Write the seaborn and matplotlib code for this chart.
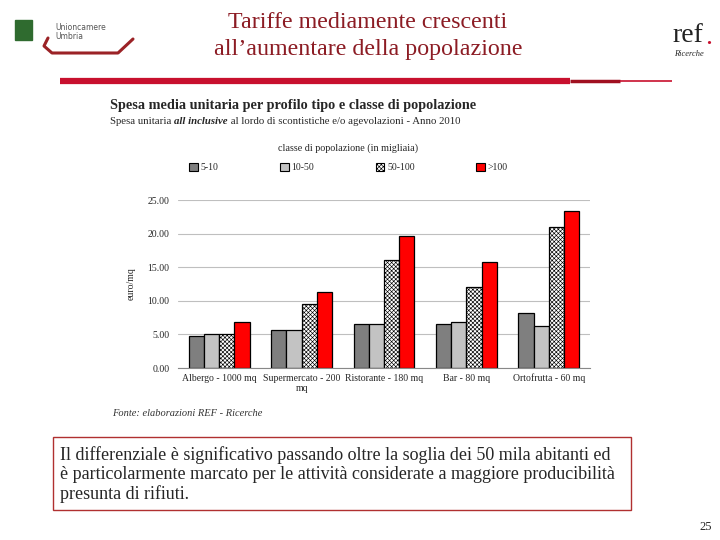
import numpy as np
import pandas as pd
import seaborn as sns
import matplotlib.pyplot as plt
from matplotlib.patches import Rectangle, Patch
from matplotlib.lines import Line2D

# values (euro/mq)
categorie = ['Albergo - 1000 mq', 'Supermercato - 200\nmq', 'Ristorante - 180 mq',
             'Bar - 80 mq', 'Ortofrutta - 60 mq']
classi = ['5-10', '10-50', '50-100', '>100']
v_5_10 = [4.7, 5.7, 6.6, 6.5, 8.2]
v_10_50 = [5.0, 5.7, 6.6, 6.8, 6.3]
v_50_100 = [5.1, 9.5, 16.1, 12.1, 21.0]
v_100 = [6.9, 11.3, 19.7, 15.8, 23.4]
colori = ['#7f7f7f', '#c3c3c3', '#ffffff', '#ff0000']

df = pd.DataFrame({'categoria': categorie * 4,
                   'classe': np.repeat(classi, 5),
                   'valore': v_5_10 + v_10_50 + v_50_100 + v_100})

sns.set_style('white')
plt.rcParams['font.family'] = ['Liberation Serif', 'DejaVu Serif']
plt.rcParams['hatch.linewidth'] = 0.45

fig = plt.figure(figsize=(7.2, 5.4), dpi=100)

# slide header
dark_red = '#8c1c24'
fig.text(0.511, 1 - 22/540, 'Tariffe mediamente crescenti', ha='center', va='center',
         fontsize=17.3, color=dark_red)
fig.text(0.511, 1 - 50/540, 'all\u2019aumentare della popolazione', ha='center', va='center',
         fontsize=17.3, color=dark_red)
fig.add_artist(Line2D([60/720, 570/720], [1 - 81/540] * 2, color='#c8102e', lw=4.5,
                      solid_capstyle='butt'))
fig.add_artist(Line2D([570/720, 620/720], [1 - 81/540] * 2, color='#a01020', lw=2.5,
                      solid_capstyle='butt'))
fig.add_artist(Line2D([620/720, 672/720], [1 - 81/540] * 2, color='#c8102e', lw=1.2,
                      solid_capstyle='butt'))

# logos (approximate)
fig.add_artist(Rectangle((15/720, 1 - 40/540), 17/720, 20/540, color='#2f6b2f'))
fig.text(55/720, 1 - 32/540, 'Unioncamere\nUmbria', fontsize=5.5, color='#555555',
         family='DejaVu Sans', va='center', linespacing=1.1)
fig.add_artist(Line2D([48/720, 44/720, 52/720, 118/720, 133/720],
                      [1 - 38/540, 1 - 46/540, 1 - 53/540, 1 - 53/540, 1 - 39/540],
                      color='#9b2226', lw=2.2, solid_capstyle='round'))
fig.text(688/720, 1 - 36/540, 'ref', fontsize=20, ha='center', va='center', color='#222222')
fig.text(709/720, 1 - 37/540, '.', fontsize=20, ha='center', va='center', color='#c8102e')
fig.text(689/720, 1 - 54/540, 'Ricerche', fontsize=6, style='italic', ha='center', va='center')

# chart titles
fig.text(110/720, 1 - 105/540, 'Spesa media unitaria per profilo tipo e classe di popolazione',
         fontsize=10.3, fontweight='bold', va='center')
t1 = fig.text(110/720, 1 - 122/540, 'Spesa unitaria ', fontsize=7.75, va='center')
t2 = fig.text(0, 0, 'all inclusive', fontsize=7.75, va='center', style='italic',
              fontweight='bold', transform=None)
fig.canvas.draw()
r = fig.canvas.get_renderer()
bb = t1.get_window_extent(r)
t2.set_position((bb.x1, (bb.y0 + bb.y1) / 2))
fig.canvas.draw()
bb2 = t2.get_window_extent(r)
fig.text(0, 0, ' al lordo di scontistiche e/o agevolazioni - Anno 2010', fontsize=7.75,
         va='center', transform=None).set_position((bb2.x1, (bb.y0 + bb.y1) / 2))

ax = fig.add_axes([178/720, 1 - 368/540, 412/720, 168/540])
sns.barplot(data=df, x='categoria', y='valore', hue='classe', hue_order=classi,
            palette=colori, width=0.74, gap=0, edgecolor='black', linewidth=0.9,
            saturation=1, ax=ax, legend=False)
for bar in ax.containers[2]:
    bar.set_hatch('xxxxxxxx')

ax.set_ylim(0, 25)
ax.set_xlim(-0.5, 4.5)
ax.set_yticks(np.arange(0, 26, 5))
ax.set_yticklabels([f'{v:.2f}' for v in np.arange(0, 26, 5)], fontsize=7)
ax.yaxis.grid(True, color='#bfbfbf', lw=0.8)
ax.set_axisbelow(True)
ax.tick_params(axis='x', labelsize=7, length=0, pad=4)
ax.set_xticks(np.arange(-0.5, 5, 1), minor=True)
ax.tick_params(axis='x', which='minor', length=4, color='#888888', width=0.8)
ax.tick_params(axis='y', length=0, pad=6)
for s in ['top', 'right', 'left']:
    ax.spines[s].set_visible(False)
ax.spines['bottom'].set_color('#888888')
ax.set_xlabel('')
ax.set_ylabel('euro/mq', fontsize=7, labelpad=9)

handles = [Patch(facecolor=c, edgecolor='black', linewidth=0.8) for c in colori]
handles[2].set_hatch('xxxxxxxx')
leg = fig.legend(handles, classi, title='classe di popolazione (in migliaia)', ncol=4,
                 loc='center', bbox_to_anchor=(0.484, 1 - 158/540), frameon=False,
                 fontsize=7, title_fontsize=7.3, handlelength=0.9, handleheight=0.9,
                 handletextpad=0.3, columnspacing=6.3, borderaxespad=0)
leg._legend_box.sep = 7

fig.text(112/720, 1 - 413/540, 'Fonte: elaborazioni REF - Ricerche', fontsize=7.5,
         style='italic', va='center', color='#333333')

# comment box
fig.add_artist(Rectangle((53/720, 1 - 510/540), 578/720, 73/540, fill=False,
                         edgecolor='#b03030', lw=1.0))
fig.text(60/720, 1 - 475/540,
         'Il differenziale è significativo passando oltre la soglia dei 50 mila abitanti ed\n'
         'è particolarmente marcato per le attività considerate a maggiore producibilità\n'
         'presunta di rifiuti.', fontsize=13, va='center', linespacing=1.15,
         family='Liberation Serif')
fig.text(706/720, 1 - 527/540, '25', fontsize=9, ha='center', va='center')

fig.savefig('out.png', dpi=100)
